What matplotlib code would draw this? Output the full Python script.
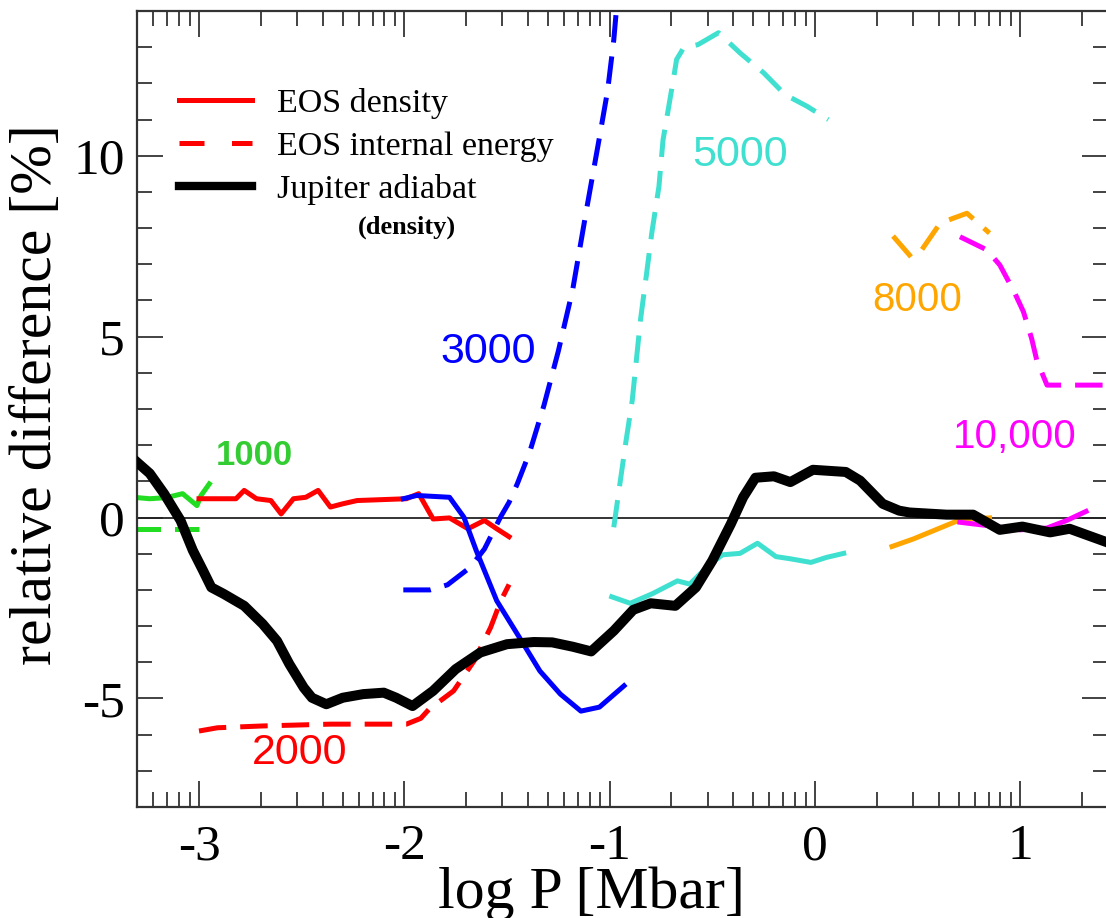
import numpy as np
import matplotlib
matplotlib.use("Agg")
import matplotlib.pyplot as plt
from matplotlib.ticker import FixedLocator, MultipleLocator
from matplotlib.lines import Line2D

plt.rcParams['axes.unicode_minus'] = False

# 1000 K isotherm
x_1000_rho = [-3.32, -3.24, -3.16, -3.08, -3.01, -2.99, -2.95]
y_1000_rho = [0.56, 0.52, 0.55, 0.66, 0.33, 0.61, 0.93]
x_1000_u = [-3.32, -3.00]
y_1000_u = [-0.31, -0.31]

# 2000 K isotherm
x_2000_rho = [-3.00, -2.82, -2.78, -2.72, -2.65, -2.60, -2.54, -2.48, -2.42, -2.36,
              -2.30, -2.23, -1.99, -1.93, -1.86, -1.78, -1.69, -1.61, -1.55, -1.49]
y_2000_rho = [0.52, 0.52, 0.75, 0.52, 0.47, 0.10, 0.52, 0.56, 0.75, 0.29,
              0.38, 0.47, 0.52, 0.66, -0.04, -0.01, -0.31, -0.08, -0.31, -0.53]
x_2000_u = [-3.00, -2.91, -2.69, -2.36, -1.99, -1.92, -1.88, -1.76, -1.66, -1.58, -1.53, -1.49]
y_2000_u = [-5.90, -5.81, -5.76, -5.71, -5.71, -5.55, -5.30, -4.79, -3.96, -3.04, -2.30, -1.85]

# 3000 K isotherm
x_3000_rho = [-2.005, -1.94, -1.78, -1.71, -1.65, -1.55, -1.44, -1.34, -1.24, -1.14, -1.05, -0.93]
y_3000_rho = [0.52, 0.61, 0.56, 0.01, -0.91, -2.30, -3.31, -4.24, -4.88, -5.35, -5.24, -4.65]
x_3000_u = [-2.005, -1.875, -1.79, -1.68, -1.61, -1.53, -1.49, -1.45, -1.39, -1.32,
            -1.25, -1.18, -1.11, -1.05, -1.01, -0.98, -0.96]
y_3000_u = [-2.0, -2.0, -1.86, -1.38, -0.87, 0.03, 0.42, 0.93, 1.8, 3.1,
            4.6, 6.3, 8.6, 10.5, 11.8, 13.2, 14.5]

# 5000 K isotherm
x_5000_rho = [-0.99, -0.90, -0.79, -0.67, -0.61, -0.51, -0.45, -0.365, -0.28, -0.19,
              -0.12, -0.02, 0.057, 0.14]
y_5000_rho = [-2.19, -2.37, -2.10, -1.75, -1.84, -1.28, -1.03, -0.99, -0.71, -1.08,
              -1.14, -1.24, -1.10, -0.99]
x_5000_u = [-0.98, -0.95, -0.92, -0.89, -0.85, -0.82, -0.795, -0.76, -0.74, -0.715,
            -0.69, -0.674, -0.64, -0.57, -0.47, -0.365, -0.25, -0.146, -0.04, 0.065]
y_5000_u = [-0.27, 0.94, 2.13, 3.24, 5.46, 6.75, 7.86, 9.15, 10.44, 11.27,
            12.1, 12.66, 12.98, 13.07, 13.40, 12.84, 12.29, 11.69, 11.37, 11.0]

# 8000 K isotherm
x_8000_rho = [0.375, 0.48, 0.69, 0.755, 0.85]
y_8000_rho = [-0.80, -0.59, -0.10, -0.04, -0.01]
x_8000_u = [0.38, 0.47, 0.52, 0.61, 0.74, 0.85]
y_8000_u = [7.78, 7.19, 7.40, 8.14, 8.41, 7.86]

# 10,000 K isotherm
x_10000_rho = [0.706, 0.836, 1.0, 1.13, 1.226, 1.32]
y_10000_rho = [-0.13, -0.22, -0.34, -0.29, -0.08, 0.17]
x_10000_u = [0.706, 0.836, 0.90, 0.97, 1.015, 1.055, 1.08, 1.13, 1.33, 1.43]
y_10000_u = [7.76, 7.40, 6.98, 6.24, 5.69, 4.95, 4.35, 3.66, 3.66, 3.66]

# Jupiter adiabat
x_jup = [-3.32, -3.24, -3.17, -3.09, -3.03, -2.98, -2.94, -2.88, -2.78, -2.69,
         -2.62, -2.56, -2.49, -2.45, -2.38, -2.30, -2.20, -2.10, -2.04, -1.96,
         -1.86, -1.75, -1.63, -1.50, -1.37, -1.28, -1.18, -1.09, -0.98, -0.885,
         -0.80, -0.68, -0.58, -0.50, -0.41, -0.35, -0.29, -0.20, -0.12, -0.01,
         0.15, 0.22, 0.33, 0.41, 0.46, 0.64, 0.77, 0.90, 1.01, 1.145,
         1.24, 1.43]
y_jup = [1.62, 1.22, 0.66, -0.08, -0.91, -1.47, -1.93, -2.11, -2.44, -2.94,
         -3.41, -4.05, -4.70, -4.98, -5.16, -4.98, -4.88, -4.84, -4.98, -5.21,
         -4.79, -4.19, -3.73, -3.50, -3.44, -3.45, -3.57, -3.70, -3.13, -2.55,
         -2.37, -2.44, -1.93, -1.19, -0.18, 0.56, 1.10, 1.14, 0.98, 1.32,
         1.26, 1.02, 0.38, 0.19, 0.14, 0.08, 0.08, -0.34, -0.25, -0.41,
         -0.31, -0.70]

labels = ['1000', '2000', '3000', '5000', '8000', '10,000']
label_x = [-2.73, -2.51, -1.59, -0.365, 0.50, 0.975]
label_y = [1.72, -6.51, 4.57, 10.03, 6.01, 2.22]
label_colors = ['#33cc33', '#ff0000', '#0000ff', '#40e0d0', '#ffa500', '#ff00ff']
label_sizes = [25, 31, 31, 31, 29, 29]

fig = plt.figure(figsize=(11.06, 9.18), dpi=100)
ax = fig.add_axes([137 / 1106, 1 - 807 / 918, (1108 - 137) / 1106, (807 - 11) / 918])

dash = (5.5, 2.8)
lw = 3.6
ax.axhline(0, color='#333333', lw=1.4, zorder=1)

ax.plot(x_1000_rho, y_1000_rho, color='#22dd22', lw=lw)
ax.plot(x_1000_u, y_1000_u, color='#22dd22', lw=lw, dashes=dash)
ax.plot(x_2000_rho, y_2000_rho, color='#ff0000', lw=lw)
ax.plot(x_2000_u, y_2000_u, color='#ff0000', lw=lw, dashes=dash)
ax.plot(x_3000_rho, y_3000_rho, color='#0000ff', lw=lw)
ax.plot(x_3000_u, y_3000_u, color='#0000ff', lw=lw, dashes=dash)
ax.plot(x_5000_rho, y_5000_rho, color='#40e0d0', lw=lw)
ax.plot(x_5000_u, y_5000_u, color='#40e0d0', lw=lw, dashes=dash)
ax.plot(x_8000_rho, y_8000_rho, color='#ffa500', lw=lw)
ax.plot(x_8000_u, y_8000_u, color='#ffa500', lw=lw, dashes=dash)
ax.plot(x_10000_rho, y_10000_rho, color='#ff00ff', lw=lw)
ax.plot(x_10000_u, y_10000_u, color='#ff00ff', lw=lw, dashes=dash)
ax.plot(x_jup, y_jup, color='black', lw=7.2, solid_joinstyle='round', zorder=5)

for txt, tx, ty, c, fs in zip(labels, label_x, label_y, label_colors, label_sizes):
    ax.text(tx, ty, txt, color=c, ha='center', va='center',
            family='Liberation Sans', fontsize=fs,
            fontweight='bold' if txt == '1000' else 'normal')

ax.set_xlim(-3.302, 1.427)
ax.set_ylim(-8, 14)

# log-style minor ticks within each decade
majors = [-3, -2, -1, 0, 1]
minors = [d + np.log10(k) for d in range(-4, 2) for k in range(2, 10)]
ax.xaxis.set_major_locator(FixedLocator(majors))
ax.xaxis.set_minor_locator(FixedLocator(minors))
ax.yaxis.set_major_locator(FixedLocator([-5, 0, 5, 10]))
ax.yaxis.set_minor_locator(MultipleLocator(1))

ax.tick_params(which='both', direction='in', top=True, right=True, color='#222222', width=1.2)
ax.tick_params(which='major', length=19)
ax.tick_params(which='minor', length=11)
ax.tick_params(axis='x', pad=12)
ax.tick_params(axis='y', pad=9)
for lab in ax.get_xticklabels() + ax.get_yticklabels():
    lab.set_family('Liberation Serif')
    lab.set_fontsize(37)
for sp in ax.spines.values():
    sp.set_linewidth(1.6)
    sp.set_color('#333333')

ax.set_xlabel('log P [Mbar]', family='Liberation Serif', fontsize=43)
ax.set_ylabel('relative difference [%]', family='Liberation Serif', fontsize=43)
ax.xaxis.set_label_coords(0.468, -0.075, transform=ax.transAxes)
ax.xaxis.label.set_va('top')
ax.yaxis.set_label_coords(-0.075, 0.518, transform=ax.transAxes)

handles = [Line2D([], [], color='#ff0000', lw=lw),
           Line2D([], [], color='#ff0000', lw=lw, dashes=(5, 5.5)),
           Line2D([], [], color='black', lw=6)]
leg = ax.legend(handles, ['EOS density', 'EOS internal energy', 'Jupiter adiabat'],
                loc='upper left', bbox_to_anchor=(0.0255, 0.925), frameon=False,
                borderpad=0, prop={'family': 'Liberation Serif', 'size': 24.5},
                handlelength=2.15, handletextpad=0.75, labelspacing=0.36)
ax.text(0.227, 0.7286, '(density)', transform=ax.transAxes, family='Liberation Serif',
        fontsize=19, fontweight='bold', va='center')

fig.savefig('out.png', dpi=100)
